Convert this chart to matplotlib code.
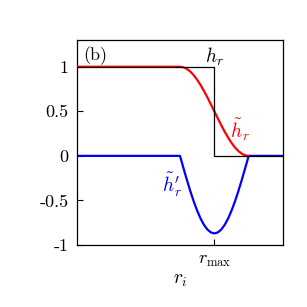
import matplotlib
matplotlib.use("Agg")
import matplotlib.pyplot as plt

plt.rcParams['font.family'] = ['cmr10', 'DejaVu Serif']
plt.rcParams['mathtext.fontset'] = 'cm'
plt.rcParams['axes.unicode_minus'] = False

# step function h_r
step_x = [0.0, 1.0, 1.0, 1.5]
step_y = [1.0, 1.0, 0.0, 0.0]

# smoothed h_r (red)
red_x = [0.0, 0.75, 0.775, 0.8, 0.825, 0.85, 0.875, 0.9, 0.925, 0.95, 0.975, 1.0,
         1.025, 1.05, 1.075, 1.1, 1.125, 1.15, 1.175, 1.2, 1.225, 1.25]
red_y = [1.0, 1.0, 0.994, 0.976, 0.946, 0.905, 0.854, 0.794, 0.727, 0.655, 0.578, 0.5,
         0.422, 0.345, 0.273, 0.206, 0.146, 0.095, 0.054, 0.024, 0.006, 0.0]

# derivative (blue)
blue_x = [0.0, 0.75, 0.775, 0.8, 0.825, 0.85, 0.875, 0.9, 0.925, 0.95, 0.975, 1.0,
          1.025, 1.05, 1.075, 1.1, 1.125, 1.15, 1.175, 1.2, 1.225, 1.25, 1.5]
blue_y = [0.0, 0.0, -0.136, -0.269, -0.395, -0.512, -0.615, -0.704, -0.775, -0.827, -0.859, -0.87,
          -0.859, -0.827, -0.775, -0.704, -0.615, -0.512, -0.395, -0.269, -0.136, 0.0, 0.0]

y_ticks = [-1, -0.5, 0, 0.5, 1]
y_labels = ['-1', '-0.5', '0', '0.5', '1']

fig = plt.figure(figsize=(3.07, 3.07), dpi=100)
ax = fig.add_axes([77/307, 62/307, 206/307, 205/307])

ax.plot(blue_x, blue_y, color='#0000ff', lw=1.6, zorder=2)
ax.plot(red_x, red_y, color='#ff0000', lw=1.6, zorder=3)
ax.plot(step_x, step_y, color='black', lw=0.9, zorder=4)

ax.set_xlim(0, 1.5)
ax.set_ylim(-1, 1.3)
ax.set_yticks(y_ticks)
ax.set_yticklabels(y_labels)
ax.set_xticks([1.0])
ax.set_xticklabels([r'$r_{\max}$'])
ax.tick_params(direction='in', length=4, width=0.8, labelsize=13, pad=6)
for s in ax.spines.values():
    s.set_linewidth(0.9)

ax.set_xlabel(r'$r_i$', fontsize=14, labelpad=2)

ax.text(0.03, 0.97, '(b)', transform=ax.transAxes, fontsize=13, va='top', ha='left')
ax.text(1.0, 0.99, r'$h_r$', fontsize=14, ha='center', va='bottom')
ax.text(1.19, 0.3, r'$\tilde{h}_r$', fontsize=14, color='#ff0000', ha='center', va='center')
ax.text(0.69, -0.33, r"$\tilde{h}_r'$", fontsize=14, color='#0000ff', ha='center', va='center')

fig.savefig('out.png', dpi=100)
